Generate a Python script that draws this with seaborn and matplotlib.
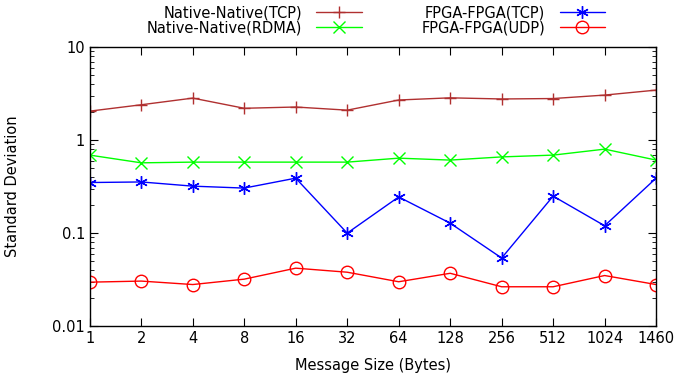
import seaborn as sns
import matplotlib.pyplot as plt
import pandas as pd

sizes = ["1", "2", "4", "8", "16", "32", "64", "128", "256", "512", "1024", "1460"]
native_tcp = [2.05, 2.4, 2.83, 2.2, 2.27, 2.1, 2.7, 2.85, 2.77, 2.8, 3.05, 3.45]
native_rdma = [0.69, 0.57, 0.58, 0.58, 0.58, 0.58, 0.64, 0.61, 0.66, 0.69, 0.80, 0.61]
fpga_tcp = [0.35, 0.355, 0.32, 0.305, 0.39, 0.10, 0.245, 0.128, 0.054, 0.25, 0.12, 0.39]
fpga_udp = [0.0297, 0.0305, 0.028, 0.032, 0.042, 0.038, 0.030, 0.037, 0.0265, 0.0265, 0.035, 0.028]

series = [
    ("Native-Native(TCP)", native_tcp, "#b03030", "+"),
    ("Native-Native(RDMA)", native_rdma, "#00ff00", "x"),
    ("FPGA-FPGA(TCP)", fpga_tcp, "#0000ff", (6, 2, 0)),
    ("FPGA-FPGA(UDP)", fpga_udp, "#ff0000", "o"),
]

sns.set_style("ticks", {"axes.edgecolor": "black", "text.color": "black",
                        "axes.labelcolor": "black", "xtick.color": "black",
                        "ytick.color": "black"})
plt.rcParams["font.family"] = ["DejaVu Sans"]
plt.rcParams["font.size"] = 10.5

fig = plt.figure(figsize=(6.75, 3.74), dpi=100)
ax = fig.add_axes([0.133, 0.128, 0.839, 0.746])

for name, vals, color, marker in series:
    df = pd.DataFrame({"pos": range(len(sizes)), "val": vals})
    sns.lineplot(data=df, x="pos", y="val", ax=ax, color=color, marker=marker,
                 markersize=9, markerfacecolor="none", markeredgecolor=color,
                 markeredgewidth=1.0, linewidth=1.0, label=name)

ax.set_yscale("log")
ax.set_ylim(0.01, 10)
ax.set_xlim(0, len(sizes) - 1)
ax.set_xticks(range(len(sizes)))
ax.set_xticklabels(sizes)
ax.set_yticks([0.01, 0.1, 1, 10])
ax.set_yticklabels(["0.01", "0.1", "1", "10"])
ax.tick_params(which="both", direction="in", top=True, right=True, colors="black")
ax.tick_params(which="major", length=6)
ax.tick_params(which="minor", length=3)
ax.tick_params(axis="x", which="minor", top=False, bottom=False)
ax.set_xlabel("Message Size (Bytes)", labelpad=9, color="black")
ax.set_ylabel("Standard Deviation", color="black")
ax.yaxis.set_label_coords(-0.123, 0.5)
for s in ax.spines.values():
    s.set_linewidth(1.0)
    s.set_color("black")

leg = ax.legend(ncol=2, markerfirst=False, frameon=False, loc="lower center",
                bbox_to_anchor=(0.505, 1.022), handlelength=3.1, columnspacing=4.1,
                handletextpad=1.0, labelspacing=0.0, borderaxespad=0)
for t in leg.get_texts():
    t.set_color("black")

fig.savefig("out.png", dpi=100)
